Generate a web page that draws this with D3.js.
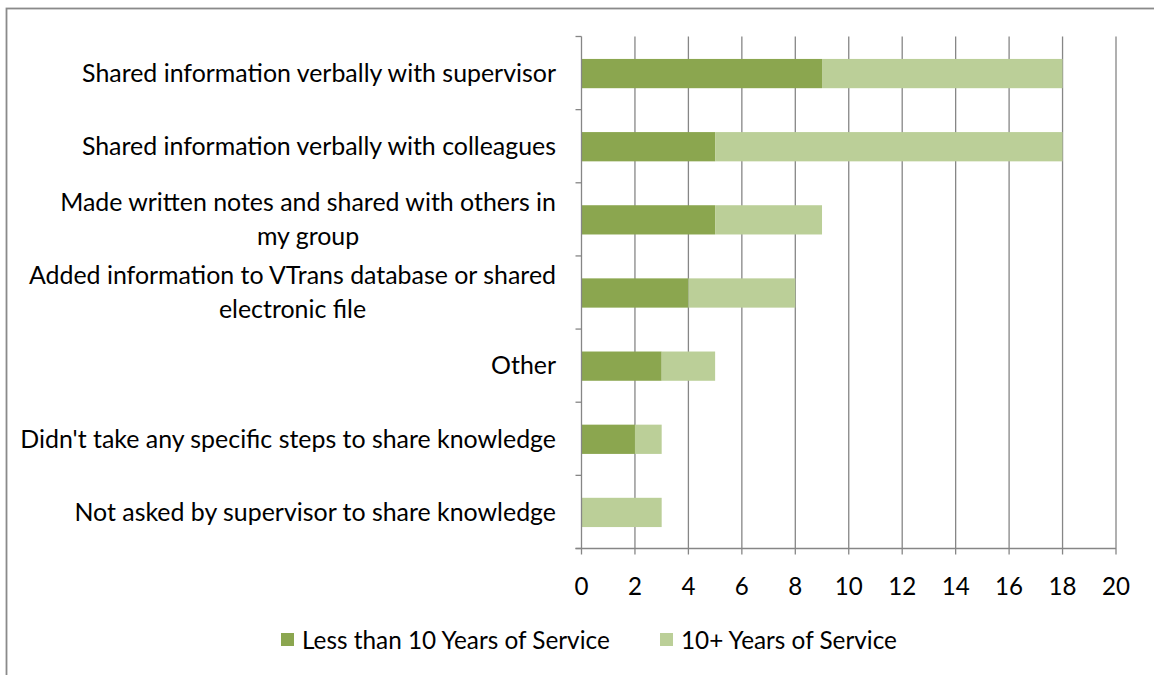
<!DOCTYPE html>
<html>
<head>
<meta charset="utf-8">
<script src="https://cdn.jsdelivr.net/npm/d3@7"></script>
<style>
  html, body { margin: 0; padding: 0; background: #fff; }
  svg text { font-family: Lato, "Open Sans", sans-serif; fill: #000; }
</style>
</head>
<body>
<svg id="chart" width="1154" height="675"></svg>
<script>
// ---- data ----
const categories = [
  "Shared information verbally with supervisor",
  "Shared information verbally with colleagues",
  "Made written notes and shared with others in|my group",
  "Added information to VTrans database or shared|electronic file",
  "Other",
  "Didn't take any specific steps to share knowledge",
  "Not asked by supervisor to share knowledge"
];
const seriesNames = ["Less than 10 Years of Service", "10+ Years of Service"];
const lessThan10 = [9, 5, 5, 4, 3, 2, 0];
const tenPlus    = [9, 13, 4, 4, 2, 1, 3];
const xTicks = [0, 2, 4, 6, 8, 10, 12, 14, 16, 18, 20];
const colors = ["#8ba64f", "#bbcf98"];

// ---- layout ----
const svg = d3.select("#chart");
const plot = { left: 581.5, right: 1116, top: 36.5, bottom: 548.5 };
const gridColor = "#868686";

// outer frame (extends past the right/bottom edges as in the reference)
svg.append("rect")
  .attr("x", 6.5).attr("y", 8.5).attr("width", 1160).attr("height", 680)
  .attr("fill", "none").attr("stroke", "#8a8a8a").attr("stroke-width", 1.8);

const x = d3.scaleLinear().domain([0, 20]).range([plot.left, plot.right]);
const y = d3.scaleBand().domain(d3.range(categories.length))
  .range([plot.top, plot.bottom]).padding(0);

// font sizes fitted to reference text widths
function fit(str, target) {
  const p = svg.append("text").attr("font-size", 20).text(str);
  const w = p.node().getComputedTextLength();
  p.remove();
  return 20 * target / w;
}
const fs = Math.min(fit(categories[0], 485), fit(categories[5], 536));
const fsLegend = fit(seriesNames[0], 308);
const fsTick = fit("20", 28);

// gridlines
svg.append("g").selectAll("line").data(xTicks.filter(d => d > 0)).join("line")
  .attr("x1", d => x(d)).attr("x2", d => x(d))
  .attr("y1", plot.top).attr("y2", plot.bottom + 6)
  .attr("stroke", gridColor).attr("stroke-width", 1.3);

// bars
const stacked = d3.stack().keys([0, 1])(categories.map((c, i) => ({0: lessThan10[i], 1: tenPlus[i]})));
const barH = y.bandwidth() * 0.4;
svg.append("g").selectAll("g").data(stacked).join("g")
  .attr("fill", (d, i) => colors[i])
  .selectAll("rect").data(d => d.map((v, i) => ({v, i}))).join("rect")
  .attr("x", d => x(d.v[0]))
  .attr("width", d => x(d.v[1]) - x(d.v[0]))
  .attr("y", d => y(d.i) + (y.bandwidth() - barH) / 2 + 0.5)
  .attr("height", barH);

// x axis
svg.append("line")
  .attr("x1", plot.left - 6).attr("x2", plot.right)
  .attr("y1", plot.bottom).attr("y2", plot.bottom)
  .attr("stroke", gridColor).attr("stroke-width", 1.3);
svg.append("line")
  .attr("x1", plot.left).attr("x2", plot.left)
  .attr("y1", plot.bottom).attr("y2", plot.bottom + 6)
  .attr("stroke", gridColor).attr("stroke-width", 1.3);
svg.append("g").selectAll("text").data(xTicks).join("text")
  .attr("x", d => x(d)).attr("y", plot.bottom + 46)
  .attr("text-anchor", "middle").attr("font-size", fsTick)
  .text(d => d);

// y axis
svg.append("line")
  .attr("x1", plot.left).attr("x2", plot.left)
  .attr("y1", plot.top).attr("y2", plot.bottom)
  .attr("stroke", gridColor).attr("stroke-width", 1.3);
const boundaries = d3.range(categories.length + 1).map(i => plot.top + i * y.step());
svg.append("g").selectAll("line").data(boundaries).join("line")
  .attr("x1", plot.left - 6).attr("x2", plot.left)
  .attr("y1", d => d).attr("y2", d => d)
  .attr("stroke", gridColor).attr("stroke-width", 1.3);

// category labels
const labelRight = 556;
const lineGap = 34;
const lg = svg.append("g");
categories.forEach((c, i) => {
  const lines = c.split("|");
  const t = lg.append("text").attr("font-size", fs).attr("text-anchor", "middle");
  const cy = y(i) + y.bandwidth() / 2;
  lines.forEach((l, j) => {
    t.append("tspan").attr("x", 0)
      .attr("y", cy + (j - (lines.length - 1) / 2) * lineGap)
      .attr("dy", "0.35em").text(l);
  });
  const w = t.node().getBBox().width;
  t.selectAll("tspan").attr("x", labelRight - w / 2);
});

// legend
const legendItems = [{x: 281, tx: 302}, {x: 660, tx: 681}];
legendItems.forEach((it, i) => {
  svg.append("rect").attr("x", it.x).attr("y", 633).attr("width", 13).attr("height", 13)
    .attr("fill", colors[i]);
  svg.append("text").attr("x", it.tx).attr("y", 640).attr("dy", "0.35em")
    .attr("font-size", fsLegend).text(seriesNames[i]);
});
</script>
</body>
</html>
